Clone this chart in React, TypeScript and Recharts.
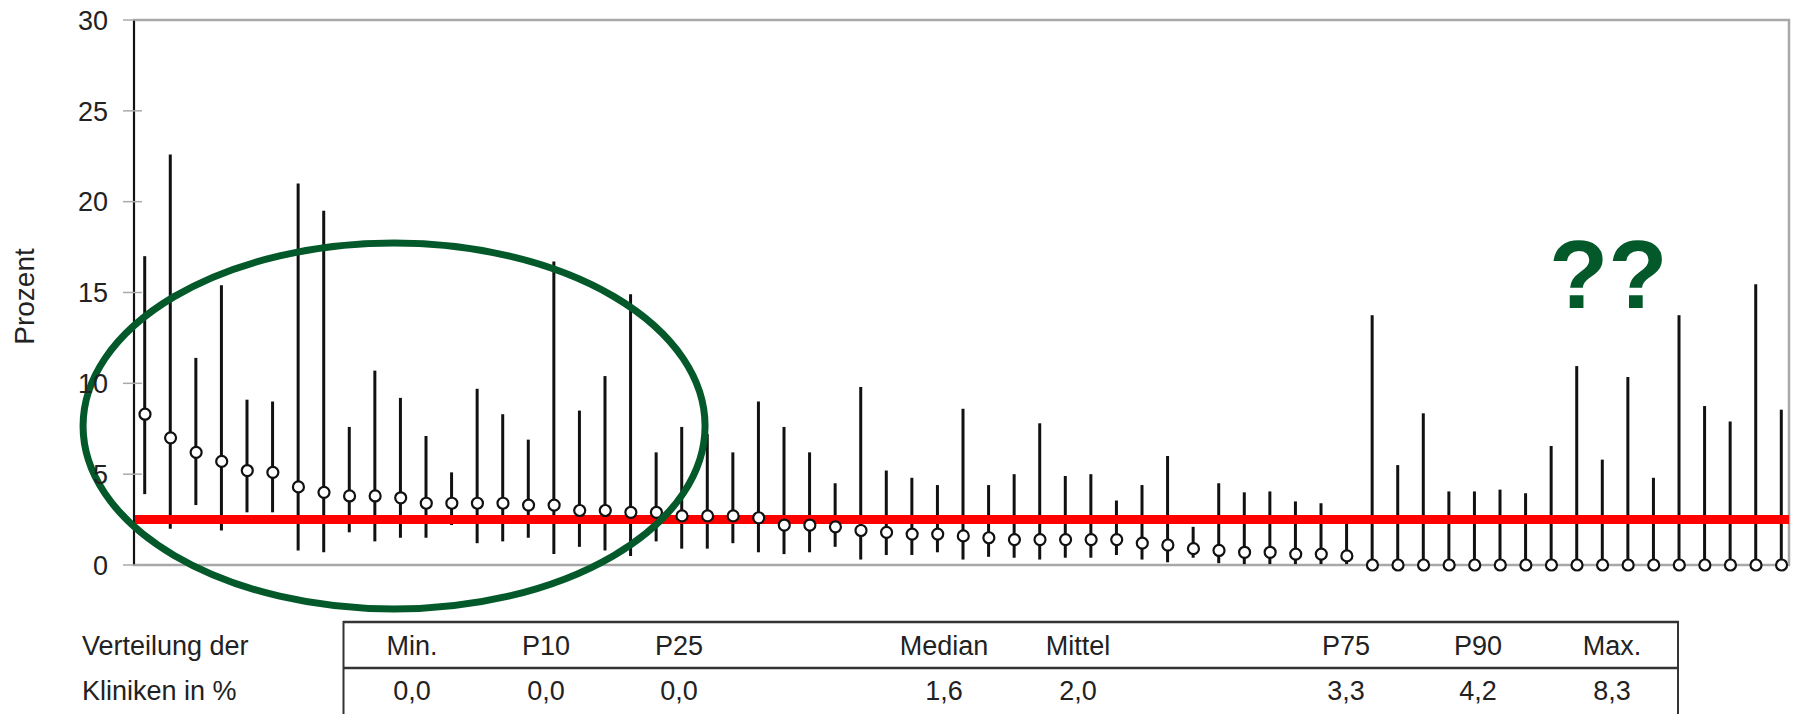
import React from 'react'
import {
  ComposedChart, Bar, Line, XAxis, YAxis, ReferenceLine, ReferenceDot, ReferenceArea,
} from 'recharts'

// Mittelwert je Klinik und Spanne (untere / obere Grenze), in %
const klinikMittel = [
  8.3, 7.0, 6.2, 5.7, 5.2, 5.1, 4.3, 4.0, 3.8, 3.8, 3.7, 3.4, 3.4, 3.4, 3.4, 3.3,
  3.3, 3.0, 3.0, 2.9, 2.9, 2.7, 2.7, 2.7, 2.6, 2.2, 2.2, 2.1, 1.9, 1.8, 1.7, 1.7,
  1.6, 1.5, 1.4, 1.4, 1.4, 1.4, 1.4, 1.2, 1.1, 0.9, 0.8, 0.7, 0.7, 0.6, 0.6, 0.5,
  0, 0, 0, 0, 0, 0, 0, 0, 0, 0, 0, 0, 0, 0, 0, 0, 0,
]
const klinikUnten = [
  3.9, 2.0, 3.3, 1.9, 2.9, 2.9, 0.8, 0.7, 1.8, 1.3, 1.5, 1.5, 2.2, 1.2, 1.3, 1.5,
  0.6, 1.0, 0.8, 0.5, 1.3, 0.9, 0.9, 1.2, 0.7, 0.6, 0.7, 1.0, 0.3, 0.55, 0.55, 0.7,
  0.3, 0.45, 0.4, 0.3, 0.4, 0.4, 0.55, 0.3, 0.15, 0.4, 0.1, 0.05, 0.05, 0.05, 0.05, 0.05,
  0, 0, 0, 0, 0, 0, 0, 0, 0, 0, 0, 0, 0, 0, 0, 0, 0,
]
const klinikOben = [
  17.0, 22.6, 11.4, 15.4, 9.1, 9.0, 21.0, 19.5, 7.6, 10.7, 9.2, 7.1, 5.1, 9.7, 8.3, 6.9,
  16.7, 8.5, 10.4, 14.9, 6.2, 7.6, 7.2, 6.2, 9.0, 7.6, 6.2, 4.5, 9.8, 5.2, 4.8, 4.4,
  8.6, 4.4, 5.0, 7.8, 4.9, 5.0, 3.55, 4.4, 6.0, 2.1, 4.5, 4.0, 4.05, 3.5, 3.4, 2.45,
  13.75, 5.5, 8.35, 4.05, 4.05, 4.15, 3.95, 6.55, 10.95, 5.8, 10.35, 4.8, 13.75, 8.75, 7.9, 15.45, 8.55,
]

const yTicks = [0, 5, 10, 15, 20, 25, 30]
const referenzwert = 2.5

const rowLabels = ['Verteilung der', 'Kliniken in %']
const statLabels = ['Min.', 'P10', 'P25', 'Median', 'Mittel', 'P75', 'P90', 'Max.']
const statWerte = ['0,0', '0,0', '0,0', '1,6', '2,0', '3,3', '4,2', '8,3']

// Spaltenmitten der Verteilungstabelle (px)
const statX = [412, 546, 679, 944, 1078, 1346, 1478, 1612]

const chartData = klinikMittel.map((m, i) => ({
  idx: i + 1,
  mittel: m,
  spanne: [klinikUnten[i], klinikOben[i]],
}))

const GREEN = '#03592a'
const TEXT = '#222'

function YTick({ x, y, payload }: any) {
  return (
    <g>
      <line x1={x - 11} x2={x + 8} y1={y} y2={y} stroke="#aaa" strokeWidth={1.5} />
      <text x={x - 26} y={y} dy="0.36em" textAnchor="end" fontSize={27} fill={TEXT}>
        {payload.value}
      </text>
    </g>
  )
}

export default function App() {
  return (
    <div
      style={{
        position: 'absolute', left: 0, top: 0, width: 1796, height: 714,
        background: '#fff', fontFamily: '"Liberation Sans", Arial, sans-serif',
      }}
    >
      <ComposedChart
        width={1796}
        height={714}
        data={chartData}
        margin={{ top: 20, right: 7, bottom: 149, left: 0 }}
      >
        <XAxis type="number" dataKey="idx" domain={[0.57, 65.29]} allowDataOverflow hide />
        <YAxis
          domain={[0, 30]}
          ticks={yTicks}
          width={134}
          tickSize={0}
          tickMargin={0}
          tickLine={false}
          tick={<YTick />}
          axisLine={{ stroke: '#111', strokeWidth: 2 }}
          label={{
            content: ({ viewBox }: any) => (
              <text
                x={viewBox.x + 24}
                y={viewBox.y + viewBox.height / 2 + 4}
                transform={`rotate(-90 ${viewBox.x + 24} ${viewBox.y + viewBox.height / 2 + 4})`}
                textAnchor="middle"
                dy="0.36em"
                fontSize={28}
                fill={TEXT}
              >
                Prozent
              </text>
            ),
          }}
        />
        {/* Rahmen des Diagramms */}
        <ReferenceArea
          y1={0}
          y2={30}
          fill="none"
          fillOpacity={0}
          stroke="#a8a8a8"
          strokeWidth={2.5}
          ifOverflow="visible"
        />
        <ReferenceLine y={referenzwert} stroke="#ff0000" strokeWidth={9} />
        <Bar dataKey="spanne" barSize={3} fill="#111" isAnimationActive={false} />
        <Line
          dataKey="mittel"
          stroke="none"
          dot={{ r: 5.5, fill: '#fff', stroke: '#111', strokeWidth: 2.2 }}
          activeDot={false}
          isAnimationActive={false}
        />
        <ReferenceDot
          x={10.74}
          y={7.65}
          ifOverflow="visible"
          shape={(p: any) => (
            <ellipse cx={p.cx} cy={p.cy} rx={311} ry={183} fill="none" stroke={GREEN} strokeWidth={7} />
          )}
        />
        <ReferenceDot
          x={55.9}
          y={14.14}
          ifOverflow="visible"
          shape={(p: any) => (
            <text x={p.cx} y={p.cy} fontSize={97} fontWeight="bold" fill={GREEN}>??</text>
          )}
        />
      </ComposedChart>

      <svg
        width={1796}
        height={714}
        style={{ position: 'absolute', left: 0, top: 0, pointerEvents: 'none' }}
      >
        <line x1={343} x2={1679} y1={622} y2={622} stroke="#333" strokeWidth={2.5} />
        <line x1={343} x2={1679} y1={668} y2={668} stroke="#333" strokeWidth={2.5} />
        <line x1={343.5} x2={343.5} y1={621} y2={714} stroke="#333" strokeWidth={2} />
        <line x1={1678} x2={1678} y1={621} y2={714} stroke="#333" strokeWidth={2} />
        <text x={82} y={655} fontSize={27} fill={TEXT}>{rowLabels[0]}</text>
        <text x={82} y={700} fontSize={27} fill={TEXT}>{rowLabels[1]}</text>
        {statLabels.map((s, i) => (
          <text key={s} x={statX[i]} y={655} fontSize={27} fill={TEXT} textAnchor="middle">{s}</text>
        ))}
        {statWerte.map((v, i) => (
          <text key={i} x={statX[i]} y={700} fontSize={27} fill={TEXT} textAnchor="middle">{v}</text>
        ))}
      </svg>
    </div>
  )
}
